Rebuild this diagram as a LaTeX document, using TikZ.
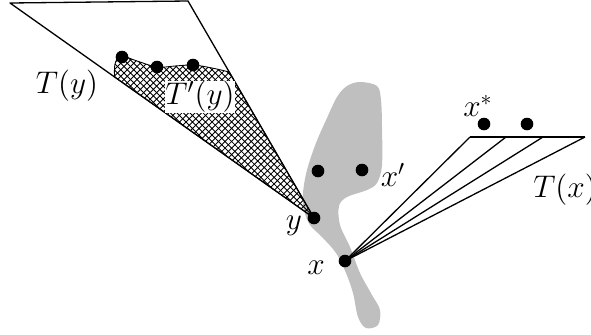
\documentclass[tikz,border=0pt]{standalone}
\usetikzlibrary{patterns}
\begin{document}
\begin{tikzpicture}[x=0.46pt,y=-0.46pt,
  edge/.style={line width=0.6pt, line join=round},
  dot/.style={circle, fill=black, inner sep=0pt, minimum size=5.8pt},
  lbl/.style={inner sep=0pt, font=\fontsize{13.7pt}{16pt}\selectfont}]
\useasboundingbox (0,0) rectangle (591,334);
% grey region
\fill[black!25] plot[smooth cycle, tension=0.55] coordinates {
 (360,82) (377,86) (381,100) (382,127) (382,165) (377,183) (367,190) (347,197)
 (339,206) (340,225) (350,247) (360,273) (372,295) (380,310) (378,325) (366,328)
 (358,317) (353,293) (346,273) (336,253) (322,237) (310,225) (304,210) (303,193)
 (307,170) (316,143) (327,118) (337,97) (347,86)};
% coordinates
\coordinate (Y) at (314,218);
\coordinate (X) at (345,261);
\coordinate (TL) at (10,3);
\coordinate (TR) at (188,1);
\coordinate (F1) at (470,137);
\coordinate (F2) at (506,137);
\coordinate (F3) at (543,137);
\coordinate (F4) at (585,137);
% hatched region T'(y)
\draw[edge, line width=0.4pt, pattern=crosshatch] (Y) -- (114.6,77)
  -- plot[smooth, tension=0.6] coordinates {(114.6,77) (115,64) (121,56) (137,61) (157,67) (175,66) (193,65) (212,68) (229.2,72)}
  -- cycle;
% triangle T(y)
\draw[edge] (TL) -- (TR) -- (Y) -- cycle;
% fan T(x)
\draw[edge] (F1) -- (F4);
\foreach \f in {F1,F2,F3,F4} \draw[edge] (X) -- (\f);
% dots
\node[dot] (d1) at (122,57) {};
\node[dot] (d2) at (157,67) {};
\node[dot] (d3) at (193,65) {};
\node[dot] (dy) at (Y) {};
\node[dot] (dx) at (X) {};
\node[dot] (dp1) at (318,171) {};
\node[dot] (dp2) at (362,170) {};
\node[dot] (ds1) at (484,124) {};
\node[dot] (ds2) at (527,124) {};
% labels
\node[lbl] (lTy) at (67,86) {$T(y)$};
\node[lbl, fill=white, inner sep=0pt] (lTpy) at (200,97) {$T'(y)$};
\node[lbl] (ly) at (294,226) {$y$};
\node[lbl] (lx) at (316,268) {$x$};
\node[lbl] (lxp) at (393,175) {$x'$};
\node[lbl] (lxs) at (478,106) {$x^*$};
\node[lbl] (lTx) at (565,190) {$T(x)$};
\end{tikzpicture}
\end{document}
